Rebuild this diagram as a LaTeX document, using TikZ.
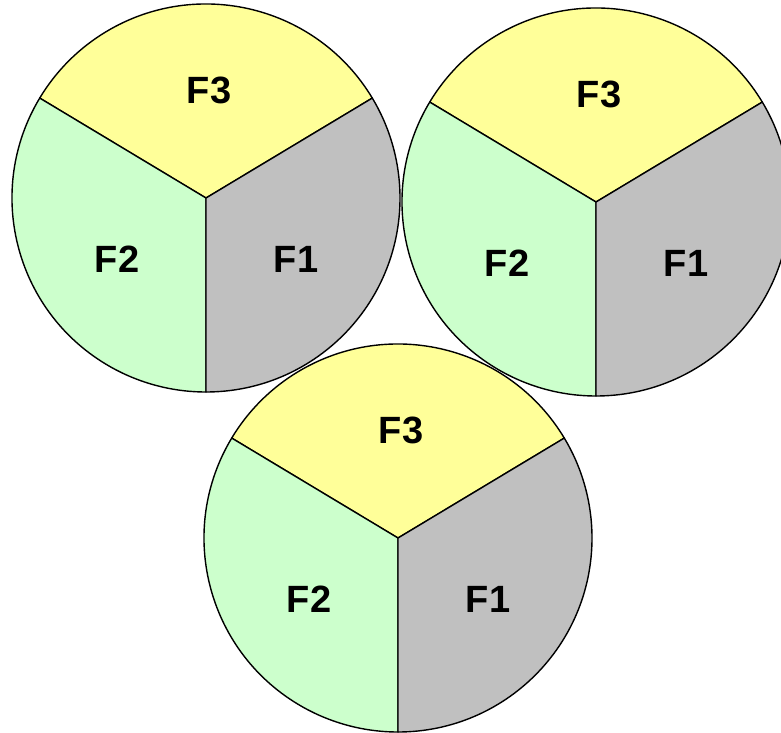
\documentclass[tikz,border=0pt]{standalone}
\usepackage{fontspec}
\setmainfont{Liberation Sans}
\usetikzlibrary{calc}
\definecolor{fyellow}{HTML}{FFFF99}
\definecolor{fgreen}{HTML}{CCFFCC}
\definecolor{fgray}{HTML}{C0C0C0}
\newcommand\threepie[3]{%
  \coordinate (#1c) at (#2,#3);
  \filldraw[sector, fill=fyellow] (#1c) -- +(31:194) arc[start angle=31, end angle=149, radius=194] -- cycle;
  \filldraw[sector, fill=fgreen] (#1c) -- +(149:194) arc[start angle=149, end angle=270, radius=194] -- cycle;
  \filldraw[sector, fill=fgray] (#1c) -- +(270:194) arc[start angle=270, end angle=391, radius=194] -- cycle;
  \node[lab] (#1f3) at ($(#1c)+(3,108)$) {F3};
  \node[lab] (#1f2) at ($(#1c)+(-89,-61)$) {F2};
  \node[lab] (#1f1) at ($(#1c)+(90,-61)$) {F1};
}
\begin{document}
\begin{tikzpicture}[x=1pt,y=1pt,
  sector/.style={draw=black, line width=1.4pt, line join=round},
  lab/.style={font=\fontsize{38}{40}\selectfont\bfseries, inner sep=0pt}]
\useasboundingbox (0,0) rectangle (781,732);
\clip (0,0) rectangle (781,732);
\threepie{a}{206}{534}
\threepie{b}{596}{530}
\threepie{c}{398}{194}
\end{tikzpicture}
\end{document}
